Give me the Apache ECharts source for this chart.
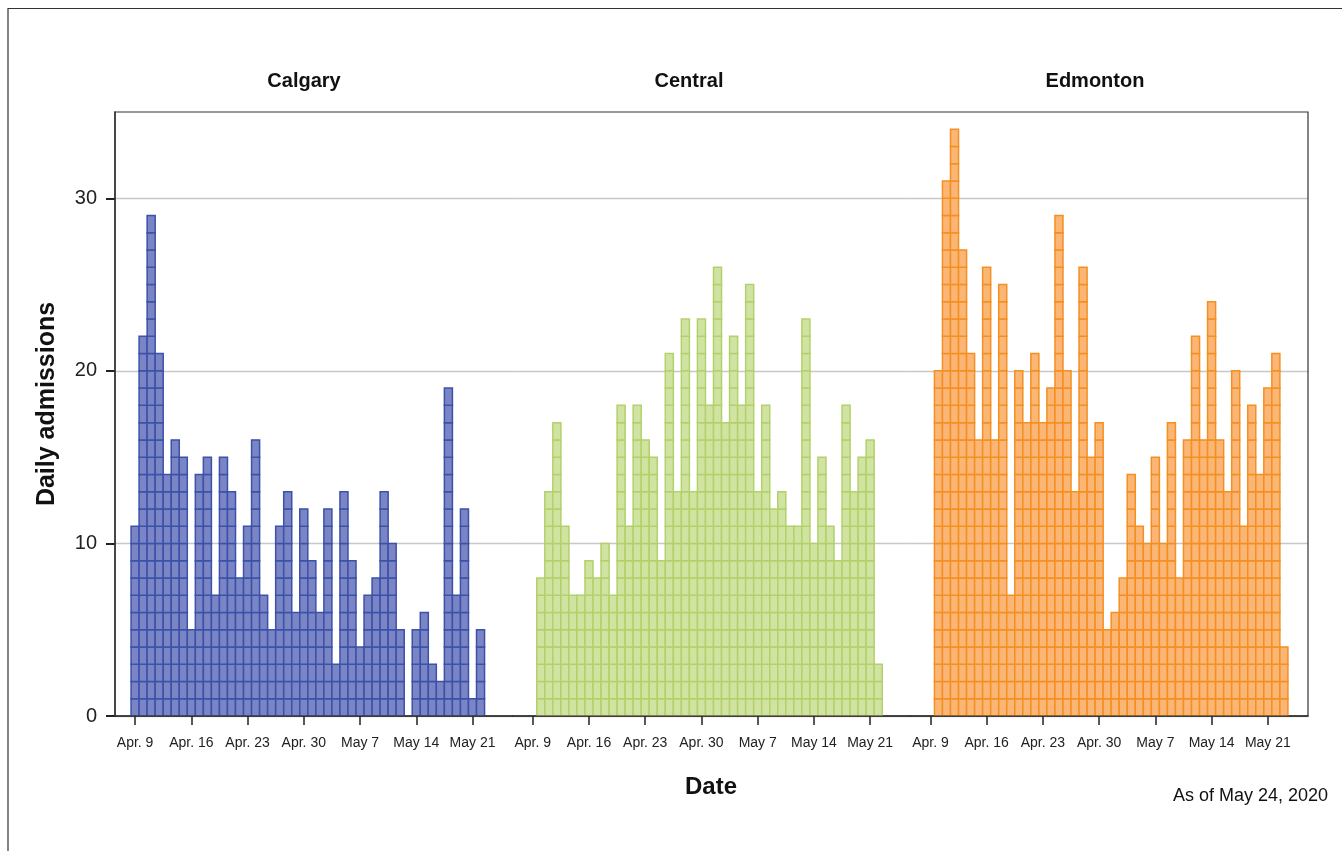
<!DOCTYPE html>
<html><head><meta charset="utf-8">
<script src="https://cdn.jsdelivr.net/npm/echarts@6/dist/echarts.min.js"></script>
<style>html,body{margin:0;padding:0;background:#fff}#chart{width:1342px;height:851px}</style>
</head><body><div id="chart"></div>
<script>
// ---- data ----
const regions = ['Calgary', 'Central', 'Edmonton'];
const calgary = [11,22,29,21,14,16,15,5,14,15,7,15,13,8,11,16,7,5,11,13,6,12,9,6,12,3,13,9,4,7,8,13,10,5,0,5,6,3,2,19,7,12,1,5];
const central = [8,13,17,11,7,7,9,8,10,7,18,11,18,16,15,9,21,13,23,13,23,18,26,17,22,18,25,13,18,12,13,11,11,23,10,15,11,9,18,13,15,16,3];
const edmonton = [20,31,34,27,21,16,26,16,25,7,20,17,21,17,19,29,20,13,26,15,17,5,6,8,14,11,10,15,10,17,8,16,22,16,24,16,13,20,11,18,14,19,21,4];
const firstDates = ['2020-04-09', '2020-04-10', '2020-04-10'];
const tickDates = ['2020-04-09','2020-04-16','2020-04-23','2020-04-30','2020-05-07','2020-05-14','2020-05-21'];
const tickLabels = ['Apr. 9','Apr. 16','Apr. 23','Apr. 30','May 7','May 14','May 21'];
const yTickValues = [0, 10, 20, 30];
const fills = ['#7b85c6', '#d1e3a1', '#fbb676'];
const strokes = ['#3a52a8', '#b2d16c', '#f48f22'];

// ---- helpers ----
const DAY = 86400000;
const refDate = Date.parse(tickDates[0]);
const dayNum = s => Math.round((Date.parse(s) - refDate) / DAY);
const tickDays = tickDates.map(dayNum);
const seriesValues = [calgary, central, edmonton];

const plotLeft = 115, plotRight = 1308, plotTop = 112, plotBottom = 716;
const panelW = (plotRight - plotLeft) / 3;

function makeRender(fill, stroke) {
  return function (params, api) {
    const day = api.value(0), v = api.value(1);
    const children = [];
    for (let k = 0; k < v; k++) {
      const a = api.coord([day - 0.5, k + 1]);
      const b = api.coord([day + 0.5, k]);
      children.push({
        type: 'rect',
        shape: { x: a[0], y: a[1], width: b[0] - a[0], height: b[1] - a[1] },
        style: { fill: fill, stroke: stroke, lineWidth: 1.5 }
      });
    }
    return { type: 'group', children: children };
  };
}

const textFont = 'Liberation Sans, Arial, sans-serif';
const grids = [], xAxes = [], yAxes = [], series = [];
regions.forEach((name, i) => {
  grids.push({ left: plotLeft + i * panelW, width: panelW, top: plotTop, height: plotBottom - plotTop, containLabel: false });
  xAxes.push({
    type: 'value', gridIndex: i, min: -2.5, max: 47,
    splitLine: { show: false },
    axisLine: { show: true, onZero: false, lineStyle: { color: '#222', width: 1.5 } },
    axisTick: { show: true, customValues: tickDays, length: 9, lineStyle: { color: '#222', width: 1.5 } },
    axisLabel: {
      show: true, customValues: tickDays, margin: 20, fontSize: 14, color: '#222',
      fontFamily: textFont,
      formatter: v => { const j = tickDays.indexOf(Math.round(v)); return j >= 0 ? tickLabels[j] : ''; }
    }
  });
  yAxes.push({
    type: 'value', gridIndex: i, min: 0, max: 35, interval: 5,
    splitLine: { show: true, lineStyle: { color: '#c8c8c8', width: 1.3 } },
    axisLine: { show: i === 0, onZero: false, lineStyle: { color: '#333', width: 1.5 } },
    axisTick: { show: i === 0, customValues: yTickValues, length: 9, lineStyle: { color: '#222', width: 2 } },
    axisLabel: { show: i === 0, customValues: yTickValues, margin: 18, fontSize: 20, color: '#222', fontFamily: textFont }
  });
  const start = dayNum(firstDates[i]);
  series.push({
    type: 'custom', name: name, xAxisIndex: i, yAxisIndex: i,
    renderItem: makeRender(fills[i], strokes[i]),
    encode: { x: 0, y: 1 },
    data: seriesValues[i].map((v, k) => [start + k, v]),
    clip: true, z: 3
  });
});

const titleX = [304, 689, 1095];
const graphic = [
  { type: 'polyline', silent: true, shape: { points: [[8, 851], [8, 8.5], [1342, 8.5]] }, style: { stroke: '#333', lineWidth: 1.2, fill: null } },
  { type: 'rect', silent: true, z: 100, shape: { x: plotLeft, y: plotTop, width: plotRight - plotLeft, height: plotBottom - plotTop }, style: { fill: null, stroke: '#333', lineWidth: 1.2 } },
  { type: 'text', silent: true, x: 47, y: 404, rotation: Math.PI / 2, style: { text: 'Daily admissions', font: 'bold 25px ' + textFont, fill: '#111', textAlign: 'center', textVerticalAlign: 'middle' } },
  { type: 'text', silent: true, x: 711, y: 787, style: { text: 'Date', font: 'bold 24px ' + textFont, fill: '#111', textAlign: 'center', textVerticalAlign: 'middle' } },
  { type: 'text', silent: true, x: 1328, y: 796, style: { text: 'As of May 24, 2020', font: '18px ' + textFont, fill: '#111', textAlign: 'right', textVerticalAlign: 'middle' } }
];
regions.forEach((name, i) => {
  graphic.push({ type: 'text', silent: true, x: titleX[i], y: 81, style: { text: name, font: 'bold 20px ' + textFont, fill: '#111', textAlign: 'center', textVerticalAlign: 'middle' } });
});

const chart = echarts.init(document.getElementById('chart'), null, { renderer: 'canvas' });
chart.setOption({
  animation: false,
  backgroundColor: '#fff',
  grid: grids, xAxis: xAxes, yAxis: yAxes, series: series, graphic: graphic
});
</script></body></html>
